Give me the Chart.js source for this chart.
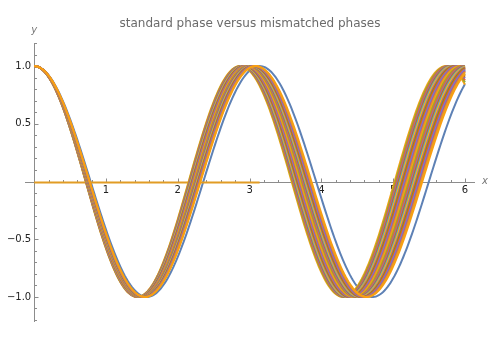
<!DOCTYPE html>
<html>
<head>
<meta charset="utf-8">
<script src="https://cdn.jsdelivr.net/npm/chart.js@4"></script>
<style>
  html, body { margin: 0; padding: 0; background: #fff; }
  #wrap { width: 500px; height: 350px; }
</style>
</head>
<body>
<div id="wrap"><canvas id="myChart"></canvas></div>
<script>
// values
const chartTitle = 'standard phase versus mismatched phases';
const standardFreq = 2;
const mismatchFreqs = [2.19, 2.184, 2.178, 2.172, 2.166, 2.16, 2.154, 2.148, 2.142, 2.136,
    2.13, 2.124, 2.118, 2.112, 2.106, 2.1, 2.094, 2.088, 2.082, 2.076,
    2.07, 2.064, 2.058, 2.052, 2.046, 2.04, 2.034];
const zeroLineEnd = 3.14;
const xTicks = [1, 2, 3, 4, 5, 6];
const xTickLabels = ['1', '2', '3', '4', '5', '6'];
const yTicks = [-1, -0.5, 0.5, 1];
const yTickLabels = ['\u22121.0', '\u22120.5', '0.5', '1.0'];
const xMax = 6;

const standardColor = '#5E81B5';
const zeroColor = '#E19C24';
const packColors = ['#F89F13', '#8FB131', '#EB6235', '#8778B3', '#C56E1A',
    '#5D9EC7', '#FFBF00', '#A5609D', '#929600', '#E95536', '#6685D9',
    '#BC5B80', '#E19C24'];

function curve(k) {
    const pts = [];
    for (let i = 0; i <= 300; i++) {
        const x = i * xMax / 300;
        pts.push({ x: x, y: Math.cos(k * x) });
    }
    return pts;
}

const datasets = [];
datasets.push({ data: curve(standardFreq), borderColor: standardColor });
datasets.push({ data: [{ x: 0, y: -0.008 }, { x: zeroLineEnd, y: -0.008 }], borderColor: zeroColor });
mismatchFreqs.forEach((k, i) => {
    datasets.push({ data: curve(k), borderColor: packColors[i % packColors.length] });
});
// later series drawn on top
datasets.forEach((d, i) => {
    d.borderWidth = 2;
    d.pointRadius = 0;
    d.tension = 0;
    d.fill = false;
    d.order = -i;
});

const axesPlugin = {
    id: 'axes',
    beforeDatasetsDraw(chart) {
        const ctx = chart.ctx;
        const xs = chart.scales.x, ys = chart.scales.y;
        const x0 = xs.getPixelForValue(0), y0 = ys.getPixelForValue(0);
        const area = chart.chartArea;
        ctx.save();
        ctx.strokeStyle = '#8c8c8c';
        ctx.lineWidth = 1;
        ctx.beginPath();
        ctx.moveTo(area.left, Math.round(y0) + 0.5);
        ctx.lineTo(area.right, Math.round(y0) + 0.5);
        ctx.moveTo(Math.round(x0) + 0.5, area.top);
        ctx.lineTo(Math.round(x0) + 0.5, area.bottom);
        // x ticks every 0.2
        for (let i = 1; i <= 30; i++) {
            const v = i * 0.2;
            const px = Math.round(xs.getPixelForValue(v)) + 0.5;
            const len = (i % 5 === 0) ? 4 : 2.5;
            ctx.moveTo(px, Math.round(y0) + 0.5);
            ctx.lineTo(px, Math.round(y0) + 0.5 - len);
        }
        // y ticks every 0.1
        for (let i = -12; i <= 12; i++) {
            if (i === 0) continue;
            const v = i * 0.1;
            const py = Math.round(ys.getPixelForValue(v)) + 0.5;
            const len = (i % 5 === 0) ? 4 : 2.5;
            ctx.moveTo(Math.round(x0) + 0.5, py);
            ctx.lineTo(Math.round(x0) + 0.5 + len, py);
        }
        ctx.stroke();

        ctx.fillStyle = '#222';
        ctx.font = '10px "DejaVu Sans"';
        ctx.textAlign = 'center';
        ctx.textBaseline = 'top';
        xTicks.forEach((v, i) => {
            ctx.fillText(xTickLabels[i], xs.getPixelForValue(v), y0 + 4);
        });
        ctx.textAlign = 'right';
        ctx.textBaseline = 'middle';
        yTicks.forEach((v, i) => {
            ctx.fillText(yTickLabels[i], x0 - 3, ys.getPixelForValue(v));
        });

        ctx.fillStyle = '#777';
        ctx.font = 'italic 10px "DejaVu Sans"';
        ctx.textAlign = 'left';
        ctx.fillText('x', area.right + 7, y0);
        ctx.textAlign = 'center';
        ctx.fillText('y', x0, area.top - 13);

        ctx.fillStyle = '#6b6b6b';
        ctx.font = '12px "DejaVu Sans"';
        ctx.textBaseline = 'middle';
        ctx.fillText(chartTitle, 250, 24);
        ctx.restore();
    }
};

const ctx = document.getElementById('myChart');
new Chart(ctx, {
    type: 'line',
    data: { datasets: datasets },
    options: {
        responsive: true,
        maintainAspectRatio: false,
        animation: false,
        layout: { padding: { left: 25, right: 25, top: 43, bottom: 28 } },
        scales: {
            x: { type: 'linear', min: -0.128, max: 6.14, display: false },
            y: { type: 'linear', min: -1.217, max: 1.2, display: false }
        },
        plugins: {
            legend: { display: false },
            tooltip: { enabled: false },
            title: { display: false }
        }
    },
    plugins: [axesPlugin]
});
</script>
</body>
</html>
